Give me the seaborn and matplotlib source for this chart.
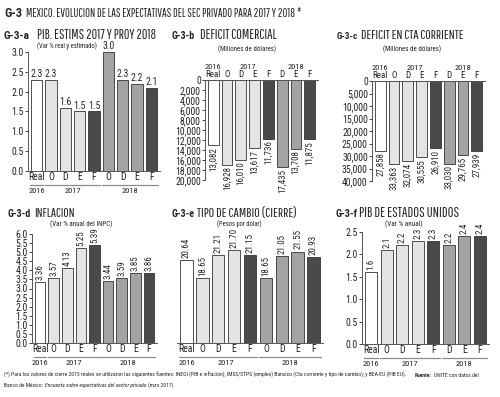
import seaborn as sns
import pandas as pd
import numpy as np
import matplotlib.pyplot as plt
from matplotlib import transforms

sns.set_style("ticks")
plt.rcParams['font.family'] = ['Roboto Condensed', 'DejaVu Sans']
TITLE_FONT = ['Pathway Gothic One', 'Roboto Condensed', 'DejaVu Sans']
CODE_FONT = ['Roboto Condensed', 'DejaVu Sans']

# colores de las barras
WHITE, LIGHT, MED, DARK = '#ffffff', '#e4e4e4', '#a3a3a3', '#4a4a4a'

# G-3-a PIB
a_labels = ['Real', 'O', 'D', 'E', 'F', 'O', 'D', 'E', 'F']
a_values = [2.3, 2.3, 1.6, 1.5, 1.5, 3.0, 2.3, 2.2, 2.1]
a_text = ['2.3', '2.3', '1.6', '1.5', '1.5', '3.0', '2.3', '2.2', '2.1']

# G-3-b deficit comercial
b_labels = ['Real', 'O', 'D', 'E', 'F', 'D', 'E', 'F']
b_values = [13082, 16928, 16010, 13617, 11736, 17435, 13708, 11875]

# G-3-c deficit cta corriente
c_labels = ['Real', 'O', 'D', 'E', 'F', 'D', 'E', 'F']
c_values = [27858, 33363, 32074, 30555, 26910, 33030, 29765, 27939]

# G-3-d inflacion
d_labels = ['Real', 'O', 'D', 'E', 'F', 'O', 'D', 'E', 'F']
d_values = [3.36, 3.57, 4.13, 5.25, 5.39, 3.44, 3.59, 3.85, 3.86]

# G-3-e tipo de cambio
e_labels = ['Real', 'O', 'D', 'E', 'F', 'O', 'D', 'E', 'F']
e_values = [20.64, 18.65, 21.21, 21.70, 21.15, 18.65, 21.05, 21.55, 20.93]

# G-3-f PIB EU
f_labels = ['Real', 'O', 'D', 'E', 'F', 'D', 'E', 'F']
f_values = [1.6, 2.1, 2.2, 2.3, 2.3, 2.2, 2.4, 2.4]
f_text = ['1.6', '2.1', '2.2', '2.3', '2.3', '2.2', '2.4', '2.4']

colors9 = [WHITE, LIGHT, LIGHT, LIGHT, DARK, MED, MED, MED, DARK]
colors8 = [WHITE, LIGHT, LIGHT, LIGHT, DARK, MED, MED, DARK]
groups9 = [('2016', 0, 0), ('2017', 1, 4), ('2018', 5, 8)]
groups8 = [('2016', 0, 0), ('2017', 1, 4), ('2018', 5, 7)]

W, H = 500, 397
fig = plt.figure(figsize=(5, 3.97), dpi=100)
rend = fig.canvas.get_renderer()


def add_ax(x0, y0, x1, y1):
    return fig.add_axes([x0 / W, 1 - y1 / H, (x1 - x0) / W, (y1 - y0) / H])


def fit_text(x0, x1, y, s, size, maxsize=None, **kw):
    # texto ajustado al ancho del original (en pixeles)
    t = fig.text(x0 / W, 1 - y / H, s, fontsize=size, va='baseline', **kw)
    w = t.get_window_extent(renderer=rend).width
    new = size * (x1 - x0) / w
    if maxsize is not None:
        new = min(new, maxsize)
    t.set_fontsize(new)
    return t


def bars(ax, labels, values, colors):
    keys = ['k%d' % i for i in range(len(values))]
    df = pd.DataFrame({'k': keys, 'v': values})
    sns.barplot(data=df, x='k', y='v', hue='k', palette=dict(zip(keys, colors)),
                legend=False, ax=ax, width=0.78, edgecolor='#333333',
                linewidth=0.6, saturation=1)
    ax.set_xticks(range(len(labels)))
    ax.set_xticklabels(labels)
    ax.set_xlabel('')
    ax.set_ylabel('')
    ax.set_xlim(-0.6, len(labels) - 0.4)
    ax.tick_params(axis='both', labelsize=7, length=2, width=0.6, pad=1,
                   colors='#222222')
    ax.tick_params(axis='x', length=0)
    for s in ['top', 'right']:
        ax.spines[s].set_visible(False)
    for s in ['left', 'bottom']:
        ax.spines[s].set_linewidth(0.7)
        ax.spines[s].set_color('#555555')


def year_lines(ax, groups, dy_line=14, dy_text=17):
    tl = transforms.offset_copy(ax.get_xaxis_transform(), fig, y=-dy_line, units='dots')
    tt = transforms.offset_copy(ax.get_xaxis_transform(), fig, y=-dy_text, units='dots')
    for name, i0, i1 in groups:
        ax.plot([i0 - 0.45, i1 + 0.45], [0, 0], color='#8a8a8a', lw=0.9,
                transform=tl, clip_on=False)
        ax.text((i0 + i1) / 2, 0, name, transform=tt, ha='center', va='top',
                fontsize=6, color='#222222')


def top_years(ax):
    tt = transforms.offset_copy(ax.get_xaxis_transform(), fig, y=10, units='dots')
    for name, xc in [('2016', 0), ('2017', 2.5), ('2018', 6)]:
        ax.text(xc, 1, name, transform=tt, ha='center', va='bottom', fontsize=6)


def inverted(ax):
    ax.xaxis.tick_top()
    ax.spines['bottom'].set_visible(False)
    ax.spines['top'].set_visible(True)
    ax.spines['top'].set_linewidth(0.7)
    ax.spines['top'].set_color('#555555')
    ax.yaxis.set_major_formatter(plt.FuncFormatter(lambda v, p: '{:,.0f}'.format(v)))
    ax.tick_params(axis='x', labelsize=6.5, pad=1)


def panel_title(y, code, cx0, cx1, text, tx0, tx1, sub, sx0, sx1, sy):
    fit_text(cx0, cx1, y, code, 9, maxsize=9.5, fontweight='bold', family=CODE_FONT)
    fit_text(tx0, tx1, y, text, 9, maxsize=11, family=TITLE_FONT)
    fit_text(sx0, sx1, sy, sub, 5.5, maxsize=6.5, color='#222222')


# ---- titulo general
fit_text(4, 22, 17, 'G-3', 9, maxsize=9.5, fontweight='bold', family=CODE_FONT)
fit_text(26, 300, 17,
         'MEXICO. EVOLUCION DE LAS EXPECTATIVAS DEL SEC PRIVADO PARA 2017 Y 2018 *',
         9, maxsize=11, family=TITLE_FONT)

# ---- G-3-a
ax = add_ax(28, 52, 160, 171)
bars(ax, a_labels, a_values, colors9)
ax.set_ylim(0, 3.0)
ax.set_yticks(np.arange(0, 3.01, 0.5))
ax.yaxis.set_major_formatter(plt.FormatStrFormatter('%.1f'))
for i, v in enumerate(a_values):
    ax.text(i, v + 0.02, a_text[i], ha='center', va='bottom', fontsize=7)
year_lines(ax, groups9)
panel_title(39, 'G-3-a', 4, 30, 'PIB. ESTIMS 2017 Y PROY 2018', 37, 155,
            '(Var % real y estimado)', 37, 97, 48)

# ---- G-3-b
ax = add_ax(205, 80, 318, 180)
bars(ax, b_labels, b_values, colors8)
ax.set_ylim(20000, 0)
ax.set_yticks(np.arange(0, 20001, 2000))
inverted(ax)
for i, v in enumerate(b_values):
    ax.text(i, v + 300, '{:,}'.format(v), ha='center', va='top', rotation=90, fontsize=6.5)
top_years(ax)
panel_title(39, 'G-3-b', 172, 195, 'DEFICIT COMERCIAL', 200, 277,
            '(Millones de dólares)', 218, 275, 51)

# ---- G-3-c
ax = add_ax(372, 81, 485, 181)
bars(ax, c_labels, c_values, colors8)
ax.set_ylim(40000, 0)
ax.set_yticks(np.arange(0, 40001, 5000))
inverted(ax)
for i, v in enumerate(c_values):
    ax.text(i, v + 600, '{:,}'.format(v), ha='center', va='top', rotation=90, fontsize=6.5)
top_years(ax)
panel_title(39, 'G-3-c', 337, 358, 'DEFICIT EN CTA CORRIENTE', 361, 463,
            '(Millones de dólares)', 383, 440, 51)

# ---- G-3-d
ax = add_ax(32, 234, 157, 343)
bars(ax, d_labels, d_values, colors9)
ax.set_ylim(0, 6.0)
ax.set_yticks(np.arange(0, 6.01, 0.5))
ax.yaxis.set_major_formatter(plt.FormatStrFormatter('%.1f'))
for i, v in enumerate(d_values):
    ax.text(i, v + 0.1, '%.2f' % v, ha='center', va='bottom', rotation=90, fontsize=6.5)
year_lines(ax, groups9)
panel_title(217, 'G-3-d', 8, 31, 'INFLACION', 34, 74,
            '(Var % anual del INPC)', 50, 112, 226)

# ---- G-3-e
ax = add_ax(177, 234, 323, 343)
bars(ax, e_labels, e_values, colors9)
ax.set_ylim(11.5, 23.5)
ax.set_yticks([])
ax.spines['left'].set_visible(False)
for i, v in enumerate(e_values):
    ax.text(i, v + 0.25, '%.2f' % v, ha='center', va='bottom', rotation=90, fontsize=6.5)
year_lines(ax, groups9)
panel_title(217, 'G-3-e', 172, 195, 'TIPO DE CAMBIO (CIERRE)', 197, 295,
            '(Pesos por dólar)', 217, 262, 226)

# ---- G-3-f
ax = add_ax(362, 232, 489, 344)
bars(ax, f_labels, f_values, colors8)
ax.set_ylim(0, 2.5)
ax.set_yticks(np.arange(0, 2.51, 0.5))
ax.yaxis.set_major_formatter(plt.FormatStrFormatter('%.1f'))
for i, v in enumerate(f_values):
    ax.text(i, v + 0.05, f_text[i], ha='center', va='bottom', rotation=90, fontsize=6.5)
year_lines(ax, groups8)
panel_title(217, 'G-3-f', 336, 358, 'PIB DE ESTADOS UNIDOS', 359, 458,
            '(Var % anual)', 385, 422, 226)

# ---- notas
n1 = fit_text(4, 410, 377,
              '(*) Para los valores de cierre 2015 reales se utilizaron las siguientes fuentes: '
              'INEGI (PIB e inflación); IMSS/STPS (empleo) Banxico (Cta corriente y tipo de cambio); '
              'y BEA-EU (PIB EU).', 4.5, maxsize=5.5)
fs = n1.get_fontsize()
p1 = fig.text(4 / W, 1 - 387 / H, 'Banco de México:', fontsize=fs, va='baseline')
x1 = p1.get_window_extent(renderer=rend).x1
p2 = fig.text((x1 + 2) / W, 1 - 387 / H,
              'Encuesta sobre expectativas del sector privado', fontsize=fs,
              style='italic', va='baseline')
x2 = p2.get_window_extent(renderer=rend).x1
fig.text((x2 + 2) / W, 1 - 387 / H, '(mzo 2017)', fontsize=fs, va='baseline')
p3 = fig.text(415 / W, 1 - 377 / H, 'Fuente:', fontsize=fs, fontweight='bold', va='baseline')
x3 = p3.get_window_extent(renderer=rend).x1
fig.text((x3 + 2) / W, 1 - 377 / H, 'UNITÉ con datos del', fontsize=fs, va='baseline')

fig.savefig('out.png', dpi=100)
